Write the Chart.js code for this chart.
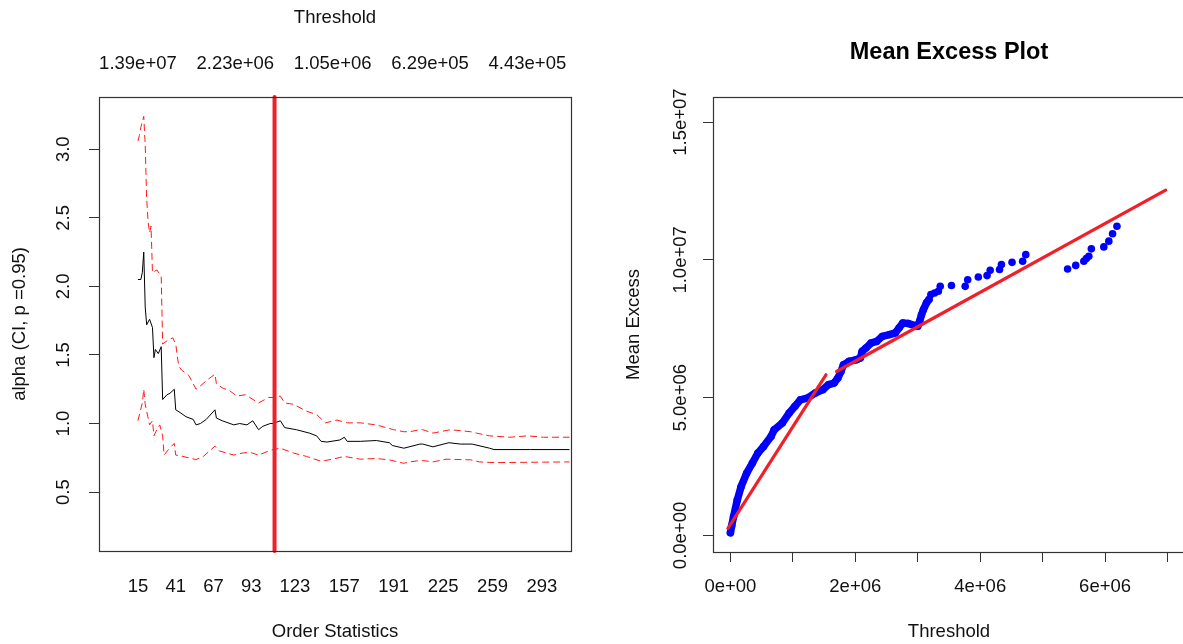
<!DOCTYPE html>
<html>
<head>
<meta charset="utf-8">
<script src="https://cdn.jsdelivr.net/npm/chart.js@4.4.1/dist/chart.umd.min.js"></script>
<style>
	html, body { margin: 0; padding: 0; background: #fff; overflow: hidden; width: 1183px; height: 644px; }
	#hill { position: absolute; left: 0; top: 0; }
	#mep { position: absolute; left: 600px; top: 0; }
</style>
</head>
<body>
<canvas id="hill" width="592" height="644"></canvas>
<canvas id="mep" width="600" height="644"></canvas>
<script>
// --- Hill plot (left) ---
const orderStatTicks = [15, 41, 67, 93, 123, 157, 191, 225, 259, 293];
const thresholdTickK = [15, 82, 149, 216, 283];
const thresholdTickLabels = ["1.39e+07", "2.23e+06", "1.05e+06", "6.29e+05", "4.43e+05"];
const alphaTicks = [0.5, 1.0, 1.5, 2.0, 2.5, 3.0];
const chosenK = 109;

const hillK = [15, 17, 18, 19, 20, 21, 23, 25, 26, 27, 29, 31, 32, 35, 37, 40, 41, 44, 48, 53, 55, 58, 62, 68, 69, 73, 81, 85, 90, 94, 98, 101, 106, 108, 113, 116, 124, 133, 138, 141, 145, 154, 157, 159, 168, 179, 188, 190, 198, 209, 211, 218, 229, 237, 245, 257, 260, 285, 312];
const hillAlpha = [2.05, 2.05, 2.10, 2.25, 1.85, 1.72, 1.76, 1.70, 1.48, 1.54, 1.51, 1.56, 1.175, 1.21, 1.22, 1.25, 1.10, 1.08, 1.05, 1.03, 0.99, 1.00, 1.03, 1.10, 1.04, 1.02, 0.99, 1.00, 0.99, 1.02, 0.955, 0.98, 1.00, 1.00, 1.02, 0.97, 0.955, 0.93, 0.91, 0.87, 0.865, 0.88, 0.90, 0.87, 0.87, 0.876, 0.86, 0.84, 0.82, 0.85, 0.85, 0.83, 0.86, 0.85, 0.85, 0.82, 0.81, 0.81, 0.81];

const upperK = [15, 16, 17, 19, 20, 21, 22, 23, 24, 25, 28, 31, 32, 36, 39, 41, 43, 45, 50, 55, 58, 63, 68, 69, 73, 78, 83, 89, 92, 98, 105, 108, 113, 116, 122, 131, 138, 144, 152, 159, 168, 179, 191, 198, 202, 209, 211, 218, 230, 244, 248, 257, 271, 283, 294, 312];
const upperAlpha = [3.06, 3.10, 3.16, 3.24, 3.03, 2.64, 2.47, 2.39, 2.44, 2.10, 2.12, 2.075, 1.58, 1.61, 1.625, 1.58, 1.42, 1.39, 1.35, 1.25, 1.275, 1.32, 1.36, 1.29, 1.26, 1.24, 1.20, 1.21, 1.19, 1.15, 1.19, 1.19, 1.20, 1.15, 1.14, 1.09, 1.065, 1.005, 1.025, 1.005, 1.005, 0.99, 0.955, 0.94, 0.94, 0.955, 0.955, 0.93, 0.955, 0.94, 0.93, 0.91, 0.90, 0.91, 0.90, 0.90];

const lowerK = [15, 18, 19, 20, 22, 23, 25, 26, 28, 30, 32, 33, 36, 40, 41, 46, 55, 60, 68, 71, 81, 87, 92, 98, 105, 108, 113, 122, 131, 141, 149, 157, 168, 179, 188, 198, 202, 209, 211, 218, 227, 244, 250, 260, 312];
const lowerAlpha = [1.02, 1.15, 1.25, 1.14, 1.04, 0.99, 1.02, 0.91, 0.956, 0.99, 0.91, 0.77, 0.81, 0.855, 0.77, 0.76, 0.737, 0.76, 0.835, 0.80, 0.77, 0.785, 0.79, 0.77, 0.80, 0.81, 0.82, 0.785, 0.76, 0.725, 0.74, 0.76, 0.74, 0.745, 0.735, 0.71, 0.72, 0.73, 0.73, 0.72, 0.74, 0.735, 0.72, 0.715, 0.72];

// --- Mean excess plot (right), values in millions ---
const meDenseThreshold = [0.00, 0.02, 0.05, 0.11, 0.17, 0.26, 0.35, 0.44, 0.53, 0.65, 0.70, 0.83, 0.94, 1.03, 1.12, 1.24, 1.36, 1.48, 1.57, 1.66, 1.72, 1.77, 1.81, 1.90, 2.02, 2.08, 2.11, 2.17, 2.25, 2.34, 2.43, 2.55, 2.64, 2.70, 2.76, 2.85, 3.00, 3.03, 3.06, 3.09, 3.14, 3.18];
const meDenseExcess = [0.10, 0.35, 0.68, 1.29, 1.77, 2.26, 2.62, 2.99, 3.23, 3.59, 3.83, 4.08, 4.44, 4.68, 4.92, 4.99, 5.17, 5.29, 5.47, 5.53, 5.71, 5.95, 6.19, 6.32, 6.38, 6.44, 6.68, 6.80, 6.98, 7.04, 7.22, 7.29, 7.35, 7.53, 7.71, 7.69, 7.59, 7.77, 8.01, 8.19, 8.44, 8.56];
const meTailThreshold = [3.21, 3.27, 3.33, 3.36, 3.54, 3.76, 3.80, 3.97, 4.11, 4.16, 4.31, 4.34, 4.51, 4.68, 4.73, 5.40, 5.53, 5.66, 5.70, 5.74, 5.78, 5.98, 6.06, 6.12, 6.19];
const meTailExcess = [8.74, 8.80, 8.86, 9.04, 9.07, 9.04, 9.28, 9.38, 9.43, 9.62, 9.65, 9.83, 9.91, 9.95, 10.19, 9.67, 9.80, 9.95, 10.05, 10.13, 10.40, 10.47, 10.68, 10.95, 11.22];
const fitLowThreshold = [-0.04, 1.53];
const fitLowExcess = [0.26, 5.83];
const fitHighThreshold = [1.70, 6.97];
const fitHighExcess = [5.95, 12.53];
const meXTicks = [0, 1, 2, 3, 4, 5, 6, 7];
const meXTickLabels = ["0e+00", "", "2e+06", "", "4e+06", "", "6e+06", ""];
const meYTicks = [0, 5, 10, 15];
const meYTickLabels = ["0.0e+00", "5.0e+06", "1.0e+07", "1.5e+07"];

const family = "'Liberation Sans', Arial, sans-serif";
const textColor = "#111";
const lineRed = "#f0202a";
const font = { family: family, size: 18.5 };

const toPoints = (xs, ys, scale = 1) => xs.map((x, i) => ({ x: x * scale, y: ys[i] * scale }));

// draws the R style frame round the plot region
const boxPlugin = {
	id: "box",
	afterDraw(chart) {
		const { ctx, chartArea: a } = chart;
		ctx.save();
		ctx.strokeStyle = "#333";
		ctx.lineWidth = 1.2;
		ctx.strokeRect(Math.round(a.left) + 0.5, Math.round(a.top) + 0.5, Math.round(a.right - a.left), Math.round(a.bottom - a.top));
		ctx.restore();
	},
};

Chart.defaults.font.family = family;
Chart.defaults.color = textColor;

function renderHill() {
	const yMin = 0.0704;
	const yMax = 3.381;
	new Chart(document.getElementById("hill"), {
		type: "line",
		data: {
			datasets: [
				{
					data: [{ x: chosenK, y: yMin }, { x: chosenK, y: yMax }],
					borderColor: lineRed,
					borderWidth: 4,
					borderCapStyle: "round",
					clip: false,
					order: 0,
				},
				{
					data: toPoints(hillK, hillAlpha),
					borderColor: "#000",
					borderWidth: 1,
					order: 1,
				},
				{
					data: toPoints(upperK, upperAlpha),
					borderColor: "#ff1a1a",
					borderWidth: 1,
					borderDash: [7, 4],
					order: 2,
				},
				{
					data: toPoints(lowerK, lowerAlpha),
					borderColor: "#ff1a1a",
					borderWidth: 1,
					borderDash: [7, 4],
					order: 2,
				},
			],
		},
		options: {
			responsive: false,
			animation: false,
			events: [],
			layout: { padding: { left: 0, top: 0, right: 21, bottom: 0 } },
			elements: {
				point: { radius: 0 },
				line: { tension: 0 },
			},
			plugins: {
				legend: { display: false },
				tooltip: { enabled: false },
			},
			scales: {
				x: {
					type: "linear",
					position: "bottom",
					min: -11.8,
					max: 313,
					afterBuildTicks: (s) => { s.ticks = orderStatTicks.map((v) => ({ value: v })); },
					afterFit: (s) => { s.height = 93; },
					grid: { display: false, drawTicks: false },
					border: { display: false },
					ticks: { font, color: textColor, padding: 25, maxRotation: 0, autoSkip: false, callback: (v) => String(v) },
					title: { display: true, text: "Order Statistics", font, color: textColor, padding: { top: 0, bottom: 1 } },
				},
				x2: {
					type: "linear",
					position: "top",
					min: -11.8,
					max: 313,
					afterBuildTicks: (s) => { s.ticks = thresholdTickK.map((v) => ({ value: v })); },
					afterFit: (s) => { s.height = 97; },
					grid: { display: false, drawTicks: false },
					border: { display: false },
					ticks: {
						font, color: textColor, padding: 22, maxRotation: 0, autoSkip: false,
						callback: (v) => thresholdTickLabels[thresholdTickK.indexOf(v)],
					},
					title: { display: true, text: "Threshold", font, color: textColor, padding: { top: 7, bottom: 0 } },
				},
				y: {
					type: "linear",
					min: yMin,
					max: yMax,
					afterBuildTicks: (s) => { s.ticks = alphaTicks.map((v) => ({ value: v })); },
					afterFit: (s) => { s.width = 99; },
					grid: { display: true, drawOnChartArea: false, drawTicks: true, tickLength: 10, color: "#333" },
					border: { display: false },
					ticks: {
						font, color: textColor, padding: 12, minRotation: 90, maxRotation: 90, crossAlign: "center", autoSkip: false,
						callback: (v) => v.toFixed(1),
					},
					title: { display: true, text: "alpha (CI, p =0.95)", font, color: textColor, padding: { top: 9, bottom: 0 } },
				},
			},
		},
		plugins: [boxPlugin],
	});
}

function renderMeanExcess() {
	const M = 1e6;
	new Chart(document.getElementById("mep"), {
		type: "scatter",
		data: {
			datasets: [
				{
					data: toPoints(fitLowThreshold, fitLowExcess, M),
					showLine: true,
					borderColor: lineRed,
					borderWidth: 3.2,
					borderCapStyle: "round",
					pointRadius: 0,
					order: 0,
				},
				{
					data: toPoints(fitHighThreshold, fitHighExcess, M),
					showLine: true,
					borderColor: lineRed,
					borderWidth: 3.2,
					borderCapStyle: "round",
					pointRadius: 0,
					order: 0,
				},
				{
					data: toPoints(meDenseThreshold, meDenseExcess, M),
					showLine: true,
					borderColor: "#0000ff",
					borderWidth: 7.5,
					borderCapStyle: "round",
					borderJoinStyle: "round",
					pointRadius: 3.8,
					pointBorderWidth: 0,
					pointBackgroundColor: "#0000ff",
					order: 1,
				},
				{
					data: toPoints(meTailThreshold, meTailExcess, M),
					pointRadius: 3.8,
					pointBorderWidth: 0,
					pointBackgroundColor: "#0000ff",
					order: 1,
				},
			],
		},
		options: {
			responsive: false,
			animation: false,
			events: [],
			layout: { padding: { left: 0, top: 0, right: 15, bottom: 0 } },
			elements: { line: { tension: 0 } },
			plugins: {
				legend: { display: false },
				tooltip: { enabled: false },
			},
			scales: {
				x: {
					type: "linear",
					position: "bottom",
					min: -0.279 * M,
					max: 7.28 * M,
					afterBuildTicks: (s) => { s.ticks = meXTicks.map((v) => ({ value: v * M })); },
					afterFit: (s) => { s.height = 92; },
					grid: { display: true, drawOnChartArea: false, drawTicks: true, tickLength: 10, color: "#333" },
					border: { display: false },
					ticks: {
						font, color: textColor, padding: 14, maxRotation: 0, autoSkip: false,
						callback: (v) => meXTickLabels[meXTicks.indexOf(Math.round(v / M))],
					},
					title: { display: true, text: "Threshold", font, color: textColor, padding: { top: 0, bottom: 1 } },
				},
				x2: {
					type: "linear",
					position: "top",
					min: -0.279 * M,
					max: 7.28 * M,
					afterFit: (s) => { s.height = 97; },
					grid: { display: false, drawTicks: false },
					border: { display: false },
					ticks: { display: false },
					title: {
						display: true, text: "Mean Excess Plot", color: "#000",
						font: { family: family, size: 23.5, weight: "bold" },
						padding: { top: 38, bottom: 0 },
					},
				},
				y: {
					type: "linear",
					min: -0.6 * M,
					max: 15.91 * M,
					afterBuildTicks: (s) => { s.ticks = meYTicks.map((v) => ({ value: v * M })); },
					afterFit: (s) => { s.width = 113; },
					grid: { display: true, drawOnChartArea: false, drawTicks: true, tickLength: 10, color: "#333" },
					border: { display: false },
					ticks: {
						font, color: textColor, padding: -12, minRotation: 90, maxRotation: 90, crossAlign: "center", autoSkip: false,
						callback: (v) => meYTickLabels[meYTicks.indexOf(Math.round(v / M))],
					},
					title: { display: true, text: "Mean Excess", font, color: textColor, padding: { top: 22.5, bottom: 0 } },
				},
			},
		},
		plugins: [boxPlugin],
	});
}

renderHill();
renderMeanExcess();
</script>
</body>
</html>
